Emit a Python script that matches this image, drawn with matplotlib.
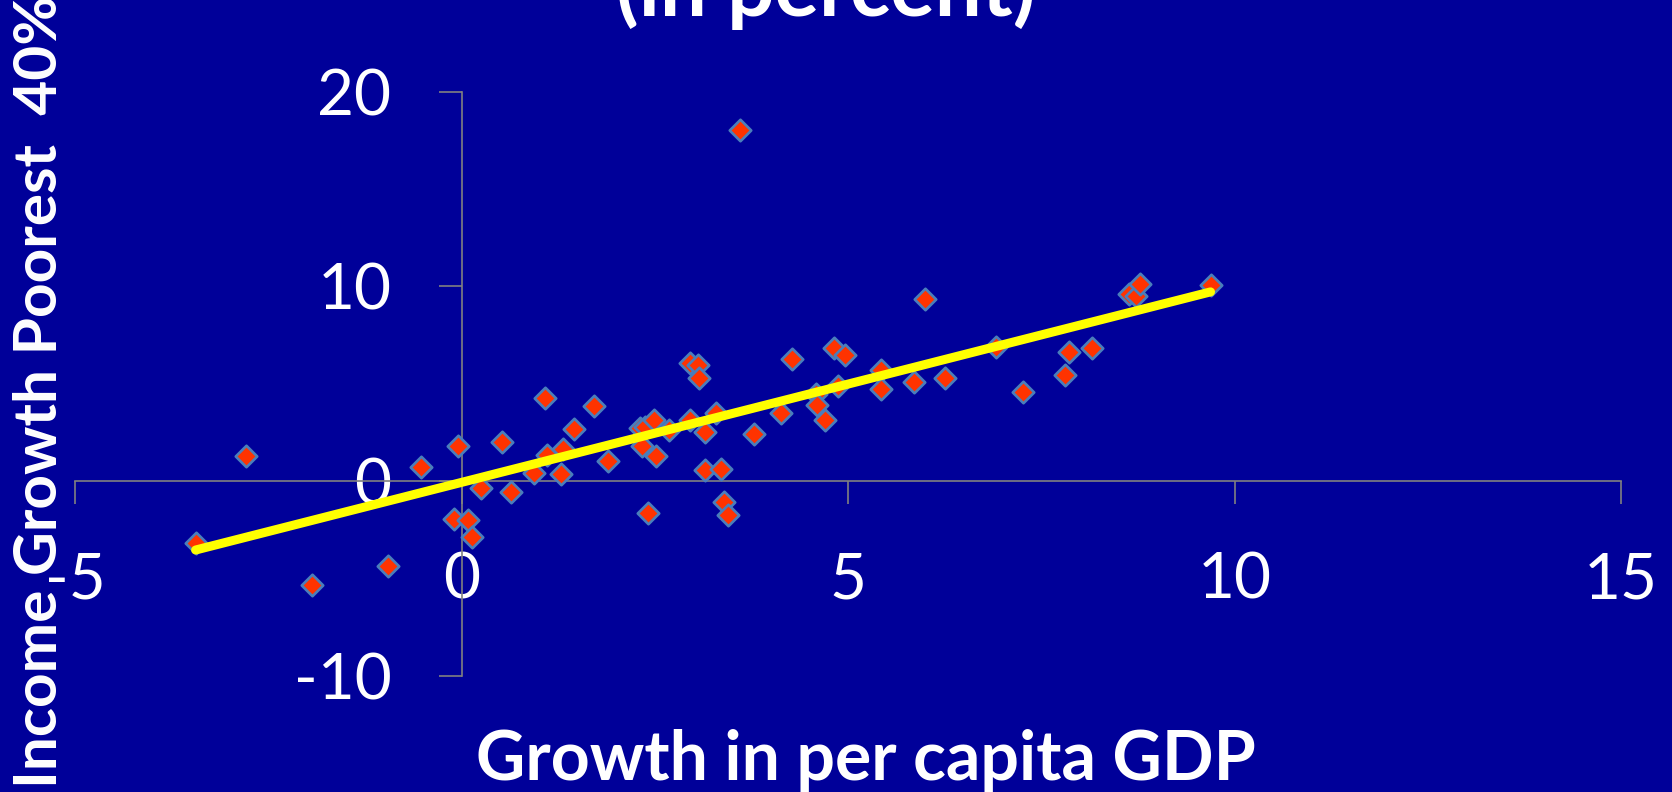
import matplotlib
matplotlib.use("Agg")
import matplotlib.pyplot as plt
import numpy as np

# Annual growth in per capita GDP vs income growth of the poorest 40% (percent)
gdp_growth = [
    -3.44, -2.79, -1.93, -0.95, -0.52, -0.05, -0.10, 0.08, 0.14, 0.25,
    0.52, 0.64, 1.08, 0.94, 1.11, 1.31, 1.29, 1.45, 1.72, 1.90,
    2.31, 2.37, 2.49, 2.34, 2.51, 2.69, 2.41, 2.96, 3.15, 3.15,
    3.36, 3.29, 3.39, 3.45, 2.95, 3.06, 3.07, 3.60, 3.79, 4.13,
    4.28, 4.59, 4.60, 4.70, 4.82, 4.96, 4.87, 5.43, 5.43, 5.86,
    5.99, 6.25, 6.91, 7.26, 7.81, 7.86, 8.16, 8.63, 8.72, 8.78,
    9.69,
]
poor_income_growth = [
    -3.17, 1.29, -5.33, -4.35, 0.72, 1.82, -1.97, -1.99, -2.88, -0.36,
    1.99, -0.58, 4.27, 0.41, 1.32, 1.66, 0.38, 2.66, 3.86, 1.05,
    2.70, 2.80, 3.16, 1.78, 1.27, 2.61, -1.63, 3.16, 2.52, 0.58,
    0.60, 3.48, -1.08, -1.74, 6.07, 5.97, 5.31, 18.03, 2.44, 3.52,
    6.29, 4.49, 3.89, 3.16, 6.81, 6.50, 4.88, 5.69, 4.75, 5.07,
    9.34, 5.30, 6.91, 4.58, 5.47, 6.63, 6.84, 9.60, 9.51, 10.11,
    10.06,
]

# Linear trend line
trend_slope = 1.01
trend_intercept = -0.07

x_ticks = [-5, 0, 5, 10, 15]
y_ticks = [-10, 0, 10, 20]

title_text = "(in percent)"
x_label = "Growth in per capita GDP"
y_label = "Income Growth Poorest  40%"

BG = "#000099"
FONT = "Lato"

fig = plt.figure(figsize=(16.72, 7.92), dpi=100, facecolor=BG)
ax = fig.add_axes([75 / 1672, 1 - 675.7 / 792, (1621 - 75) / 1672, (675.7 - 91.7) / 792])
ax.set_facecolor(BG)

ax.scatter(gdp_growth, poor_income_growth, marker="D", s=120,
           facecolor="#FF3300", edgecolor="#4A7EBB", linewidths=1.9, zorder=3)

xs = np.array([min(gdp_growth), max(gdp_growth)])
ax.plot(xs, trend_slope * xs + trend_intercept, color="#FFFF00", lw=6.5,
        solid_capstyle="round", zorder=4)

ax.set_xlim(-5, 15)
ax.set_ylim(-10, 20)
ax.set_xticks(x_ticks)
ax.set_yticks(y_ticks)
ax.set_xticklabels([str(v) for v in x_ticks])
ax.set_yticklabels([str(v) for v in y_ticks])

for side in ("top", "right"):
    ax.spines[side].set_visible(False)
for side in ("left", "bottom"):
    ax.spines[side].set_position(("data", 0))
    ax.spines[side].set_color("#808080")
    ax.spines[side].set_linewidth(1.2)

ax.tick_params(axis="both", direction="out", length=16.5, width=1.2,
               color="#808080", labelcolor="white", labelsize=46, pad=34)
for lbl in ax.get_xticklabels() + ax.get_yticklabels():
    lbl.set_fontfamily(FONT)

fig.text(866 / 1672, 1 - 780 / 792, x_label, color="white", fontsize=49,
         fontweight="bold", family=FONT, ha="center", va="baseline")
fig.text(40 / 1672, 0.506, y_label, color="white", fontsize=43.5,
         fontweight="bold", family=FONT, ha="center", va="center", rotation=90)
fig.text(826 / 1672, 1 - 16 / 792, title_text, color="white", fontsize=60,
         fontweight="bold", family=FONT, ha="center", va="baseline")

fig.savefig("out.png", dpi=100, facecolor=BG)
